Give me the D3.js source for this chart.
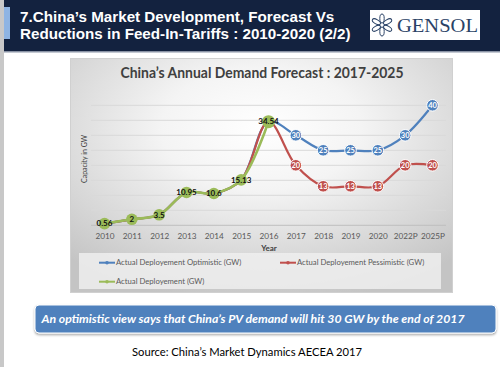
<!DOCTYPE html>
<html><head><meta charset="utf-8">
<script src="https://cdn.jsdelivr.net/npm/d3@7"></script>
<style>
html,body{margin:0;padding:0;background:#fff;}
svg{display:block;}
</style></head>
<body>
<svg id="c" width="500" height="367"></svg>
<script>
const categories = ["2010","2011","2012","2013","2014","2015","2016","2017","2018","2019","2020","2022P","2025P"];
const optimistic = [0.56, 2, 3.5, 10.95, 10.6, 15.13, 34.54, 30, 25, 25, 25, 30, 40];
const pessimistic = [0.56, 2, 3.5, 10.95, 10.6, 15.13, 34.54, 20, 13, 13, 13, 20, 20];
const actual = [0.56, 2, 3.5, 10.95, 10.6, 15.13, 34.54, null, null, null, null, null, null];
const yTicks = [0, 5, 10, 15, 20, 25, 30, 35, 40];
const seriesNames = ["Actual Deployement Optimistic (GW)", "Actual Deployement Pessimistic (GW)", "Actual Deployement (GW)"];
const seriesColors = ["#4f81bd", "#c0504d", "#9bbb59"];

const svg = d3.select("#c");
const defs = svg.append("defs");

// Header
svg.append("rect").attr("x",0).attr("y",0).attr("width",500).attr("height",367).attr("fill","#fff");
svg.append("rect").attr("x",0).attr("y",0).attr("width",4).attr("height",367).attr("fill","#c8c8c8");
svg.append("rect").attr("x",4).attr("y",0).attr("width",496).attr("height",51).attr("fill","#13223f");
svg.append("rect").attr("x",4).attr("y",51).attr("width",496).attr("height",1.5).attr("fill","#8a93a5");
svg.append("rect").attr("x",4).attr("y",7).attr("width",6).attr("height",32).attr("fill","#8eb4e3");
const ht = svg.append("text").attr("fill","#fff").attr("font-family","Liberation Sans, Arial, sans-serif")
  .attr("font-weight","bold").attr("font-size",15.2);
ht.append("tspan").attr("x",20).attr("y",22).text("7.China\u2019s Market Development, Forecast Vs");
ht.append("tspan").attr("x",20).attr("y",39).text("Reductions in Feed-In-Tariffs : 2010-2020 (2/2)");

// Logo
svg.append("rect").attr("x",370).attr("y",10).attr("width",110).attr("height",30).attr("fill","#fff");
const lg = svg.append("g").attr("transform","translate(382,25)");
for (let i=0;i<6;i++){
  lg.append("ellipse").attr("cx",0).attr("cy",-6.5).attr("rx",2.2).attr("ry",4.5)
    .attr("fill","none").attr("stroke","#2a4266").attr("stroke-width",1)
    .attr("transform",`rotate(${i*60})`);
}
svg.append("text").attr("x",397).attr("y",32).attr("fill","#2a4266").attr("font-family","Liberation Serif, Times New Roman, serif")
  .attr("font-size",19).attr("textLength",81).attr("lengthAdjust","spacingAndGlyphs").text("GENSOL");

// Chart area
const grad = defs.append("radialGradient").attr("id","bg").attr("cx","50%").attr("cy","30%").attr("r","75%");
grad.append("stop").attr("offset","0%").attr("stop-color","#ffffff");
grad.append("stop").attr("offset","35%").attr("stop-color","#f4f4f4");
grad.append("stop").attr("offset","100%").attr("stop-color","#c4c4c4");
svg.append("rect").attr("x",70.5).attr("y",58.5).attr("width",382).attr("height",234)
  .attr("fill","url(#bg)").attr("stroke","#d0d0d0").attr("stroke-width",1);

svg.append("text").attr("x",262).attr("y",78).attr("text-anchor","middle").attr("fill","#404040")
  .attr("font-family","Lato, Carlito, Calibri, sans-serif").attr("font-weight","bold").attr("font-size",14.5)
  .attr("textLength",283).attr("lengthAdjust","spacingAndGlyphs")
  .text("China\u2019s Annual Demand Forecast : 2017-2025");

const x = d3.scalePoint().domain(categories).range([104.5, 432.5]);
const y = d3.scaleLinear().domain([0, 40]).range([225.3, 105.3]);

// gridlines
svg.append("g").selectAll("line").data(yTicks).join("line")
  .attr("x1",91).attr("x2",446).attr("y1",d=>y(d)).attr("y2",d=>y(d))
  .attr("stroke",d=>d===0?"#bfbfbf":"#d9d9d9").attr("stroke-width",1);

// x axis
const xa = svg.append("g").attr("transform","translate(0,225.3)")
  .call(d3.axisBottom(x).tickSize(0).tickPadding(8));
xa.select(".domain").remove();
xa.selectAll("text").attr("fill","#595959").attr("font-family","Lato, Carlito, Calibri, sans-serif").attr("font-size",8.2);

svg.append("text").attr("x",269).attr("y",251).attr("text-anchor","middle").attr("fill","#404040")
  .attr("font-family","Lato, Carlito, Calibri, sans-serif").attr("font-weight","bold").attr("font-size",8).text("Year");
svg.append("text").attr("transform","translate(87,159) rotate(-90)").attr("text-anchor","middle").attr("fill","#404040")
  .attr("font-family","Lato, Carlito, Calibri, sans-serif").attr("font-size",7).text("Capacity in GW");

const line = d3.line().defined(d=>d.v!=null).x(d=>x(d.c)).y(d=>y(d.v)).curve(d3.curveCatmullRom.alpha(0.5));
const mk = arr => categories.map((c,i)=>({c, v: arr[i]}));
const series = [mk(optimistic), mk(pessimistic), mk(actual)];

series.forEach((s,i)=>{
  svg.append("path").datum(s).attr("d",line).attr("fill","none").attr("stroke",seriesColors[i])
    .attr("stroke-width",i===2?2.6:2.2).attr("stroke-linejoin","round");
});

// forecast markers (2017 onwards)
[0,1].forEach(i=>{
  const pts = series[i].filter((d,k)=>k>=7);
  const g = svg.append("g");
  g.selectAll("circle").data(pts).join("circle").attr("cx",d=>x(d.c)).attr("cy",d=>y(d.v)).attr("r",5.8)
    .attr("fill",seriesColors[i]).attr("stroke","#fff").attr("stroke-width",1);
  g.selectAll("text").data(pts).join("text").attr("x",d=>x(d.c)).attr("y",d=>y(d.v)+2.7)
    .attr("text-anchor","middle").attr("fill","#fff").attr("font-family","Lato, Carlito, Calibri, sans-serif")
    .attr("font-weight","bold").attr("font-size",7.5).text(d=>d.v);
});

// actual markers
const ap = series[2].filter(d=>d.v!=null);
svg.append("g").selectAll("circle").data(ap).join("circle").attr("cx",d=>x(d.c)).attr("cy",d=>y(d.v))
  .attr("r",d=>d.c==="2016"?6.5:5.8).attr("fill","#9bbb59");
svg.append("g").selectAll("text").data(ap).join("text").attr("x",d=>x(d.c)).attr("y",d=>y(d.v)+2.8)
  .attr("text-anchor","middle").attr("fill","#111").attr("font-family","Lato, Carlito, Calibri, sans-serif")
  .attr("font-weight","bold").attr("font-size",8).text(d=>d.v);

// legend
svg.append("rect").attr("x",79).attr("y",253).attr("width",362).attr("height",36).attr("fill","#eeeeee").attr("opacity",0.85);
const legPos = [[99,262.7],[280,262.7],[99,281.7]];
seriesNames.forEach((n,i)=>{
  const [lx,ly] = legPos[i];
  svg.append("line").attr("x1",lx).attr("x2",lx+16).attr("y1",ly).attr("y2",ly).attr("stroke",seriesColors[i]).attr("stroke-width",2);
  svg.append("circle").attr("cx",lx+8).attr("cy",ly).attr("r",1.8).attr("fill",seriesColors[i]);
  svg.append("text").attr("x",lx+17).attr("y",ly+2.7).attr("fill","#595959").attr("font-family","Lato, Carlito, Calibri, sans-serif")
    .attr("font-size",7.7).text(n);
});

// callout
const sh = defs.append("filter").attr("id","sh").attr("x","-5%").attr("y","-20%").attr("width","110%").attr("height","160%");
sh.append("feDropShadow").attr("dx",0).attr("dy",1.5).attr("stdDeviation",1.2).attr("flood-color","#000").attr("flood-opacity",0.35);
svg.append("rect").attr("x",35).attr("y",305).attr("width",461).attr("height",28).attr("rx",4)
  .attr("fill","#4f81bd").attr("stroke","#fff").attr("stroke-width",1).attr("filter","url(#sh)");
svg.append("text").attr("x",41.5).attr("y",323).attr("fill","#fff").attr("font-family","Lato, Carlito, Calibri, sans-serif")
  .attr("font-weight","bold").attr("font-style","italic").attr("font-size",12.2)
  .attr("textLength",423).attr("lengthAdjust","spacingAndGlyphs")
  .text("An optimistic view says that China\u2019s PV demand will hit 30 GW  by the end of 2017");

svg.append("text").attr("x",132).attr("y",356).attr("fill","#000")
  .attr("font-family","Lato, Carlito, Calibri, sans-serif").attr("font-size",11.2)
  .attr("textLength",230).attr("lengthAdjust","spacingAndGlyphs")
  .text("Source: China\u2019s Market Dynamics AECEA 2017");
</script>
</body></html>
